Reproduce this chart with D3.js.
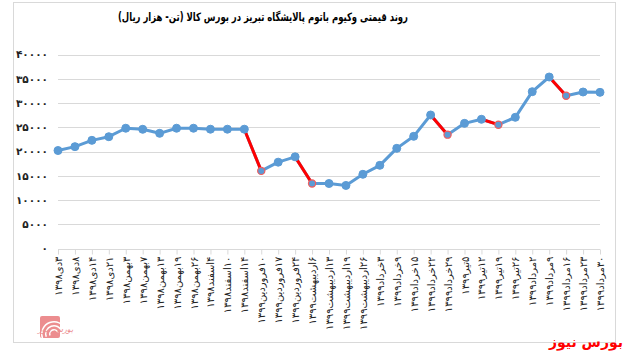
<!DOCTYPE html>
<html>
<head>
<meta charset="utf-8">
<script src="https://cdn.jsdelivr.net/npm/d3@7"></script>
<style>
  body { margin: 0; background: #fff; }
  text { font-family: "DejaVu Sans", sans-serif; }
</style>
</head>
<body>
<div id="canvas"></div>
<script>
"use strict"

/***********************************
 DATA
************************************/
let dates = [
    "۳دی۱۳۹۸", "۸دی۱۳۹۸", "۱۴دی۱۳۹۸", "۲۱دی۱۳۹۸", "۳بهمن۱۳۹۸", "۷بهمن۱۳۹۸",
    "۱۳بهمن۱۳۹۸", "۱۹بهمن۱۳۹۸", "۲۶بهمن۱۳۹۸", "۴اسفند۱۳۹۸", "۱۰اسفند۱۳۹۸",
    "۱۴اسفند۱۳۹۸", "۱۰فروردین۱۳۹۹", "۱۷فروردین۱۳۹۹", "۲۴فروردین۱۳۹۹",
    "۶اردیبهشت۱۳۹۹", "۱۳اردیبهشت۱۳۹۹", "۱۹اردیبهشت۱۳۹۹", "۲۶اردیبهشت۱۳۹۹",
    "۳خرداد۱۳۹۹", "۹خرداد۱۳۹۹", "۱۵خرداد۱۳۹۹", "۲۲خرداد۱۳۹۹", "۲۹خرداد۱۳۹۹",
    "۵تیر۱۳۹۹", "۱۲تیر۱۳۹۹", "۱۹تیر۱۳۹۹", "۲۶تیر۱۳۹۹", "۲مرداد۱۳۹۹",
    "۹مرداد۱۳۹۹", "۱۶مرداد۱۳۹۹", "۲۳مرداد۱۳۹۹", "۳۰مرداد۱۳۹۹"
];

let prices = [
    20200, 21000, 22300, 23050, 24800, 24580, 23750, 24800, 24800, 24600, 24600,
    24600, 16000, 17800, 18900, 13400, 13400, 13000, 15300, 17150, 20650, 23130,
    27530, 23470, 25800, 26640, 25530, 27050, 32330, 35360, 31500, 32270, 32200
];

// points reached by a drop (segment before them drawn in red)
let dropIndex = [12, 15, 23, 26, 30];

let yTicks = [0, 5000, 10000, 15000, 20000, 25000, 30000, 35000, 40000];

let title = "روند قیمتی وکیوم باتوم پالایشگاه تبریز در بورس کالا (تن- هزار ریال)";

/***********************************
 CONFIG
************************************/
let svgWidth = 628;
let svgHeight = 354;
let plotLeft = 58, plotRight = 600, plotTop = 54.5, plotBottom = 248.5;
let blue = "#5B9BD5";
let red = "#FF0000";

let toFa = s => String(s).replace(/\d/g, d => "۰۱۲۳۴۵۶۷۸۹"[d]);

let svg = d3.select("#canvas")
    .append("svg")
    .attr("width", svgWidth)
    .attr("height", svgHeight);

// chart frame
svg.append("rect")
    .attr("x", 13.5)
    .attr("y", 2.5)
    .attr("width", 602)
    .attr("height", 340)
    .attr("fill", "none")
    .attr("stroke", "#d9d9d9");

/***********************************
 SCALES
************************************/
let xScale = d3.scalePoint()
    .domain(d3.range(dates.length))
    .range([plotLeft, plotRight]);

let yScale = d3.scaleLinear()
    .domain([0, 40000])
    .range([plotBottom, plotTop]);

/***********************************
 GRID + AXES
************************************/
svg.append("g")
    .selectAll("line")
    .data(yTicks)
    .join("line")
    .attr("x1", plotLeft)
    .attr("x2", plotRight)
    .attr("y1", d => Math.round(yScale(d)) + 0.5)
    .attr("y2", d => Math.round(yScale(d)) + 0.5)
    .attr("stroke", "#d9d9d9")
    .attr("stroke-width", 1);

let yAxis = svg.append("g")
    .attr("transform", `translate(${plotLeft}, 0)`)
    .call(d3.axisLeft(yScale).tickValues(yTicks).tickSize(0).tickPadding(10)
        .tickFormat(d => toFa(d)));
yAxis.select(".domain").remove();
yAxis.selectAll("text")
    .attr("font-family", "DejaVu Sans")
    .attr("font-size", 10.5)
    .attr("font-weight", "bold")
    .attr("fill", "#222");

let xAxis = svg.append("g")
    .attr("transform", `translate(0, ${Math.round(plotBottom) + 0.5})`)
    .call(d3.axisBottom(xScale).tickSize(5).tickFormat(i => dates[i]));
xAxis.select(".domain").remove();
xAxis.selectAll(".tick line").attr("stroke", "#d9d9d9");
xAxis.selectAll("text")
    .attr("font-family", "DejaVu Sans")
    .attr("font-size", 10)
    .attr("fill", "#222")
    .attr("direction", "rtl")
    .attr("text-anchor", "start")
    .attr("dy", "0.35em")
    .attr("transform", "translate(0, 7) rotate(-90)")
    .attr("x", 0)
    .attr("y", 0);

/***********************************
 LINE
************************************/
let line = d3.line()
    .x((d, i) => xScale(i))
    .y(d => yScale(d));

svg.append("path")
    .datum(prices)
    .attr("d", line)
    .attr("fill", "none")
    .attr("stroke", blue)
    .attr("stroke-width", 3)
    .attr("stroke-linejoin", "round");

svg.append("g")
    .selectAll("line")
    .data(dropIndex)
    .join("line")
    .attr("x1", i => xScale(i - 1))
    .attr("y1", i => yScale(prices[i - 1]))
    .attr("x2", i => xScale(i))
    .attr("y2", i => yScale(prices[i]))
    .attr("stroke", red)
    .attr("stroke-width", 3)
    .attr("stroke-linecap", "round");

svg.append("g")
    .selectAll("circle")
    .data(prices)
    .join("circle")
    .attr("cx", (d, i) => xScale(i))
    .attr("cy", d => yScale(d))
    .attr("r", (d, i) => dropIndex.includes(i) ? 3.6 : 4)
    .attr("fill", blue)
    .attr("stroke", (d, i) => dropIndex.includes(i) ? "#f25c5c" : blue)
    .attr("stroke-width", (d, i) => dropIndex.includes(i) ? 1.2 : 1);

/***********************************
 TITLE
************************************/
svg.append("text")
    .attr("x", 263)
    .attr("y", 21)
    .attr("text-anchor", "middle")
    .attr("direction", "rtl")
    .attr("font-size", 11.5)
    .attr("font-weight", "bold")
    .attr("textLength", 290)
    .attr("lengthAdjust", "spacingAndGlyphs")
    .attr("fill", "#000")
    .text(title);

/***********************************
 LOGOS
************************************/
let logo = svg.append("g").attr("transform", "translate(40, 316)");
logo.append("rect")
    .attr("width", 20)
    .attr("height", 22)
    .attr("rx", 2)
    .attr("fill", "#ec8d8f");
[5, 9, 13].forEach(r => {
    logo.append("path")
        .attr("d", d3.arc()({ innerRadius: r - 1.5, outerRadius: r, startAngle: -Math.PI / 2, endAngle: Math.PI / 2 }))
        .attr("transform", "translate(14, 18) rotate(-20)")
        .attr("fill", "#fff");
});
svg.append("text")
    .attr("x", 38)
    .attr("y", 332)
    .attr("text-anchor", "end")
    .attr("direction", "rtl")
    .attr("font-size", 8)
    .attr("font-style", "italic")
    .attr("fill", "#ec8d8f")
    .text("بورس نیوز");

svg.append("text")
    .attr("x", 623)
    .attr("y", 347)
    .attr("text-anchor", "end")
    .attr("font-size", 14)
    .attr("font-weight", "bold")
    .attr("fill", red)
    .text("بورس نیوز");
</script>
</body>
</html>
